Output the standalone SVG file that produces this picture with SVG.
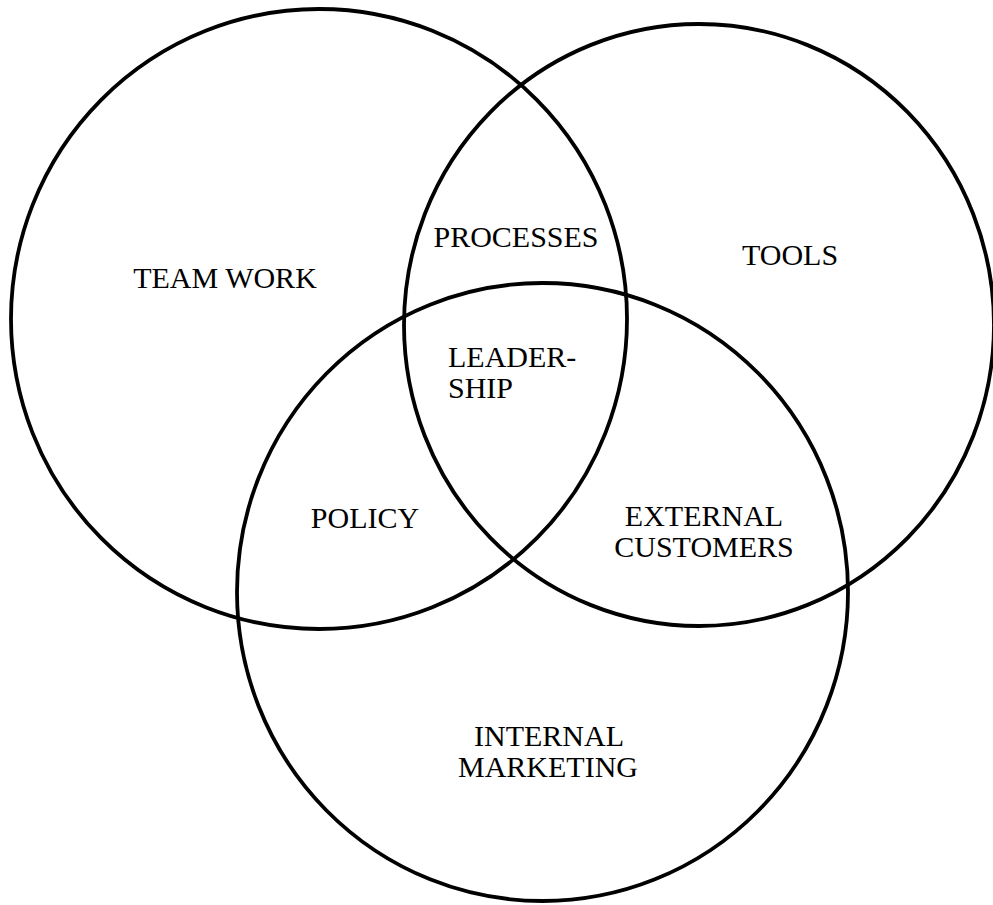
<svg xmlns="http://www.w3.org/2000/svg" width="993" height="905" viewBox="0 0 993 905">
<style>
.c{fill:none;stroke:#000;stroke-width:3.8}
.t{font-family:"Liberation Serif","Times New Roman",serif;font-size:30px;fill:#000}
.m{text-anchor:middle}
</style>
<rect width="993" height="905" fill="#fff"/>
<g id="circles">
<ellipse id="team-work-circle" class="c" cx="319" cy="319" rx="308" ry="310"/>
<ellipse id="tools-circle" class="c" cx="699" cy="325" rx="295" ry="301"/>
<ellipse id="internal-marketing-circle" class="c" cx="542.5" cy="592" rx="305.5" ry="309"/>
</g>
<g id="labels">
<text id="team-work" class="t m" x="225" y="288">TEAM WORK</text>
<text id="processes" class="t m" x="516" y="247">PROCESSES</text>
<text id="tools" class="t m" x="790" y="265">TOOLS</text>
<text id="leadership" class="t" x="448" y="367">LEADER-<tspan x="448" y="398">SHIP</tspan></text>
<text id="policy" class="t m" x="365" y="528">POLICY</text>
<text id="external-customers" class="t m" x="704" y="526">EXTERNAL<tspan x="704" y="557">CUSTOMERS</tspan></text>
<text id="internal-marketing" class="t m" x="549" y="746">INTERNAL<tspan x="548" y="777">MARKETING</tspan></text>
</g>
</svg>
